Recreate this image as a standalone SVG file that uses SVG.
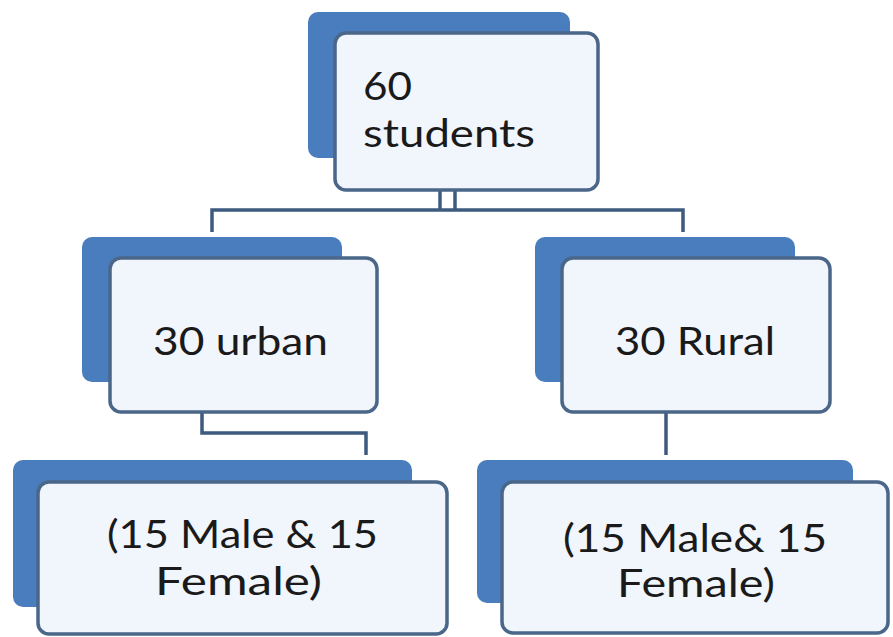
<svg xmlns="http://www.w3.org/2000/svg" width="893" height="637" viewBox="0 0 893 637">
<defs>
<style>
.back{fill:#4a7dbd;}
.front{fill:#f1f5fc;stroke:#4a6688;stroke-width:3.5;}
.lbl{font-family:Lato,"Liberation Sans",sans-serif;font-size:39px;fill:#1a1a1a;}
.conn{fill:none;stroke:#3e5a7e;stroke-width:3.5;}
.faint{fill:none;stroke:#c9d5e6;stroke-width:2;}
</style>
</defs>
<rect width="893" height="637" fill="#ffffff"/>
<g id="connectors">
<line class="faint" x1="440" y1="165" x2="440" y2="190"/>
<line class="faint" x1="455" y1="165" x2="455" y2="190"/>
<line class="conn" x1="440" y1="190" x2="440" y2="210"/>
<line class="conn" x1="455" y1="190" x2="455" y2="210"/>
<polyline class="conn" points="212,232 212,210 683,210 683,232"/>
<line class="faint" x1="202" y1="388" x2="202" y2="412"/>
<polyline class="conn" points="202,412 202,433 366,433 366,455"/>
<line class="faint" x1="666" y1="388" x2="666" y2="412"/>
<line class="conn" x1="666" y1="412" x2="666" y2="455"/>
</g>
<g id="node-60-students">
<rect class="back" x="308" y="12" width="262" height="146" rx="10"/>
<rect class="front" x="335" y="33" width="263" height="157" rx="11"/>
<text class="lbl" x="363" y="100" textLength="49" lengthAdjust="spacingAndGlyphs">60</text>
<text class="lbl" x="363" y="147" textLength="172" lengthAdjust="spacingAndGlyphs">students</text>
</g>
<g id="node-30-urban">
<rect class="back" x="82" y="237" width="260" height="145" rx="10"/>
<rect class="front" x="110" y="258" width="267" height="154" rx="11"/>
<text class="lbl" x="153" y="355" textLength="175" lengthAdjust="spacingAndGlyphs">30 urban</text>
</g>
<g id="node-30-rural">
<rect class="back" x="535" y="237" width="260" height="145" rx="10"/>
<rect class="front" x="562" y="258" width="268" height="154" rx="11"/>
<text class="lbl" x="615" y="355" textLength="160" lengthAdjust="spacingAndGlyphs">30 Rural</text>
</g>
<g id="node-urban-gender">
<rect class="back" x="13" y="460" width="399" height="147" rx="10"/>
<rect class="front" x="38" y="482" width="409" height="152" rx="11"/>
<text class="lbl" x="107" y="548" textLength="271" lengthAdjust="spacingAndGlyphs">(15 Male &amp; 15</text>
<text class="lbl" x="155" y="595" textLength="167" lengthAdjust="spacingAndGlyphs">Female)</text>
</g>
<g id="node-rural-gender">
<rect class="back" x="477" y="460" width="376" height="143" rx="10"/>
<rect class="front" x="502" y="482" width="386" height="151" rx="11"/>
<text class="lbl" x="563" y="552" textLength="264" lengthAdjust="spacingAndGlyphs">(15 Male&amp; 15</text>
<text class="lbl" x="617" y="597" textLength="158" lengthAdjust="spacingAndGlyphs">Female)</text>
</g>
</svg>
